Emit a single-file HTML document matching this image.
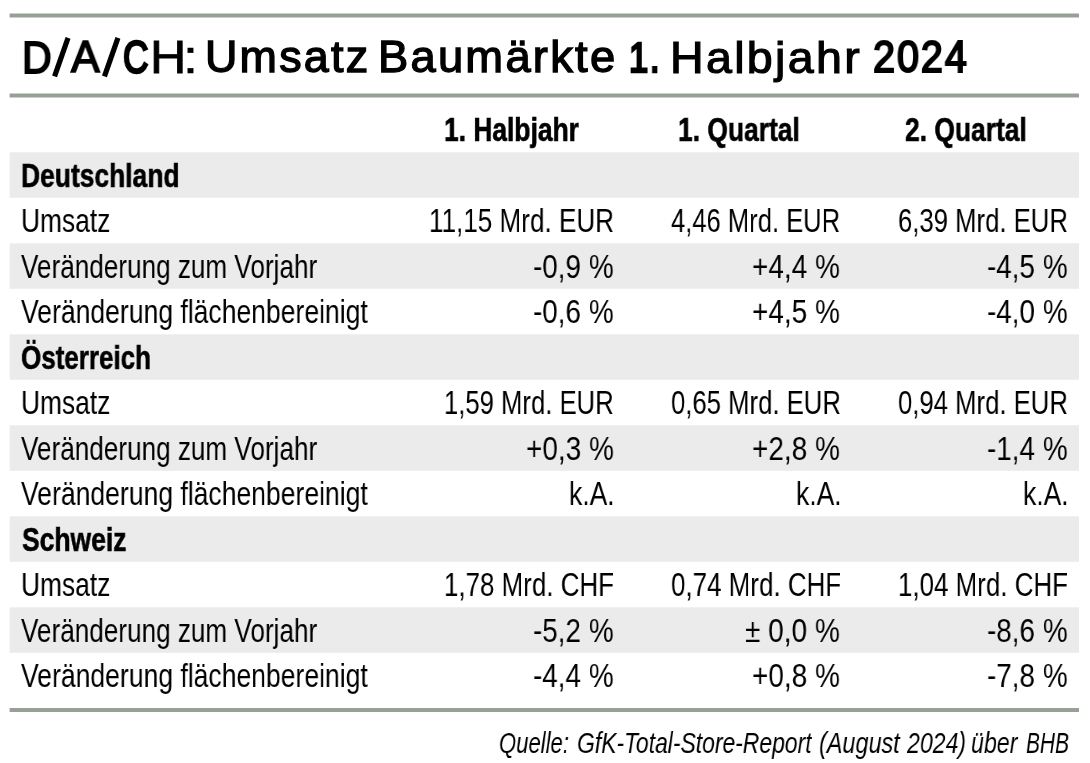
<!DOCTYPE html>
<html><head><meta charset="utf-8"><style>
html,body{margin:0;padding:0;background:#fff;}
body{width:1090px;height:763px;position:relative;overflow:hidden;font-family:"Liberation Sans",sans-serif;color:#000;}
.rule{position:absolute;left:10px;width:1069px;background:#97a095;}
.bg{position:absolute;left:10px;width:1069px;height:45.5px;background:#ebebeb;}
.t{position:absolute;white-space:nowrap;will-change:transform;transform-origin:0 0;}
</style></head><body>
<svg style="position:absolute;left:0;top:0" width="1090" height="763" viewBox="0 0 1090 763"><rect x="9.7" y="152.30" width="1069.3" height="45.5" fill="#ebebeb"/><rect x="9.7" y="243.30" width="1069.3" height="45.5" fill="#ebebeb"/><rect x="9.7" y="334.30" width="1069.3" height="45.5" fill="#ebebeb"/><rect x="9.7" y="425.30" width="1069.3" height="45.5" fill="#ebebeb"/><rect x="9.7" y="516.30" width="1069.3" height="45.5" fill="#ebebeb"/><rect x="9.7" y="607.30" width="1069.3" height="45.5" fill="#ebebeb"/><rect x="9.6" y="13.5" width="1069.4" height="4" fill="#97a095"/><rect x="9.6" y="93.5" width="1069.4" height="4" fill="#97a095"/><rect x="9.6" y="708" width="1069.4" height="4" fill="#97a095"/><g stroke="#000" stroke-width="5.2" stroke-linecap="butt"><line x1="54.55" y1="76.35" x2="68.05" y2="37.85"/><line x1="104.45" y1="76.35" x2="117.95" y2="37.85"/></g></svg>
<div class="t" style="left:21.62px;top:35.57px;font-size:43.85px;line-height:43.85px;-webkit-text-stroke:1.83px #000;letter-spacing:2.2px;transform:scaleX(0.9376)">D</div>
<div class="t" style="left:70.77px;top:35.39px;font-size:44.20px;line-height:44.20px;-webkit-text-stroke:1.59px #000;letter-spacing:2.2px;transform:scaleX(0.9724)">A</div>
<div class="t" style="left:123.04px;top:34.51px;font-size:45.35px;line-height:45.35px;-webkit-text-stroke:2.60px #000;letter-spacing:2.2px;transform:scaleX(0.7761)">C</div>
<div class="t" style="left:149.59px;top:34.81px;font-size:45.36px;line-height:45.36px;-webkit-text-stroke:0.79px #000;letter-spacing:2.2px;transform:scaleX(1.1074)">H</div>
<div class="t" style="left:182.56px;top:34.67px;font-size:45.64px;line-height:45.64px;-webkit-text-stroke:0.60px #000;letter-spacing:2.2px;transform:scaleX(1.1814)">:</div>
<div class="t" style="left:204.70px;top:35.22px;font-size:44.53px;line-height:44.53px;-webkit-text-stroke:1.36px #000;letter-spacing:2.2px;transform:scaleX(1.0074)">Umsatz</div>
<div class="t" style="left:378.24px;top:35.18px;font-size:44.61px;line-height:44.61px;-webkit-text-stroke:1.31px #000;letter-spacing:2.2px;transform:scaleX(1.0163)">Baumärkte</div>
<div class="t" style="left:628.75px;top:36.13px;font-size:42.73px;line-height:42.73px;-webkit-text-stroke:2.60px #000;letter-spacing:2.2px;transform:scaleX(0.8055)">1.</div>
<div class="t" style="left:669.50px;top:35.08px;font-size:44.82px;line-height:44.82px;-webkit-text-stroke:1.16px #000;letter-spacing:2.2px;transform:scaleX(1.0404)">Halbjahr</div>
<div class="t" style="left:872.58px;top:35.73px;font-size:43.52px;line-height:43.52px;-webkit-text-stroke:2.06px #000;letter-spacing:2.2px;transform:scaleX(0.9070)">2024</div>
<div class="t" style="left:444.15px;top:112.81px;font-size:33.3px;line-height:33.3px;font-weight:bold;-webkit-text-stroke:0.6px #000;transform:scaleX(0.7923)">1. Halbjahr</div>
<div class="t" style="left:678.05px;top:112.81px;font-size:33.3px;line-height:33.3px;font-weight:bold;-webkit-text-stroke:0.6px #000;transform:scaleX(0.7930)">1. Quartal</div>
<div class="t" style="left:904.84px;top:112.81px;font-size:33.3px;line-height:33.3px;font-weight:bold;-webkit-text-stroke:0.6px #000;transform:scaleX(0.7930)">2. Quartal</div>
<div class="t" style="left:21.05px;top:158.61px;font-size:33.3px;line-height:33.3px;font-weight:bold;-webkit-text-stroke:0.6px #000;transform:scaleX(0.7936)">Deutschland</div>
<div class="t" style="left:21.02px;top:203.51px;font-size:33.3px;line-height:33.3px;transform:scaleX(0.7912)">Umsatz</div>
<div class="t" style="left:429.03px;top:203.51px;font-size:33.3px;line-height:33.3px;transform:scaleX(0.7830)">11,15 Mrd. EUR</div>
<div class="t" style="left:671.30px;top:203.51px;font-size:33.3px;line-height:33.3px;transform:scaleX(0.7679)">4,46 Mrd. EUR</div>
<div class="t" style="left:897.83px;top:203.51px;font-size:33.3px;line-height:33.3px;transform:scaleX(0.7715)">6,39 Mrd. EUR</div>
<div class="t" style="left:21.30px;top:250.01px;font-size:33.3px;line-height:33.3px;transform:scaleX(0.7844)">Veränderung zum Vorjahr</div>
<div class="t" style="left:533.16px;top:250.01px;font-size:33.3px;line-height:33.3px;transform:scaleX(0.8370)">-0,9 %</div>
<div class="t" style="left:752.26px;top:250.01px;font-size:33.3px;line-height:33.3px;transform:scaleX(0.8399)">+4,4 %</div>
<div class="t" style="left:986.86px;top:250.01px;font-size:33.3px;line-height:33.3px;transform:scaleX(0.8370)">-4,5 %</div>
<div class="t" style="left:21.30px;top:294.51px;font-size:33.3px;line-height:33.3px;transform:scaleX(0.7972)">Veränderung flächenbereinigt</div>
<div class="t" style="left:533.16px;top:294.51px;font-size:33.3px;line-height:33.3px;transform:scaleX(0.8370)">-0,6 %</div>
<div class="t" style="left:752.26px;top:294.51px;font-size:33.3px;line-height:33.3px;transform:scaleX(0.8399)">+4,5 %</div>
<div class="t" style="left:986.86px;top:294.51px;font-size:33.3px;line-height:33.3px;transform:scaleX(0.8370)">-4,0 %</div>
<div class="t" style="left:21.45px;top:340.61px;font-size:33.3px;line-height:33.3px;font-weight:bold;-webkit-text-stroke:0.6px #000;transform:scaleX(0.7802)">Österreich</div>
<div class="t" style="left:21.02px;top:385.51px;font-size:33.3px;line-height:33.3px;transform:scaleX(0.7912)">Umsatz</div>
<div class="t" style="left:444.36px;top:385.51px;font-size:33.3px;line-height:33.3px;transform:scaleX(0.7704)">1,59 Mrd. EUR</div>
<div class="t" style="left:670.53px;top:385.51px;font-size:33.3px;line-height:33.3px;transform:scaleX(0.7715)">0,65 Mrd. EUR</div>
<div class="t" style="left:897.83px;top:385.51px;font-size:33.3px;line-height:33.3px;transform:scaleX(0.7715)">0,94 Mrd. EUR</div>
<div class="t" style="left:21.30px;top:432.01px;font-size:33.3px;line-height:33.3px;transform:scaleX(0.7844)">Veränderung zum Vorjahr</div>
<div class="t" style="left:525.86px;top:432.01px;font-size:33.3px;line-height:33.3px;transform:scaleX(0.8399)">+0,3 %</div>
<div class="t" style="left:752.26px;top:432.01px;font-size:33.3px;line-height:33.3px;transform:scaleX(0.8399)">+2,8 %</div>
<div class="t" style="left:986.86px;top:432.01px;font-size:33.3px;line-height:33.3px;transform:scaleX(0.8370)">-1,4 %</div>
<div class="t" style="left:21.30px;top:476.51px;font-size:33.3px;line-height:33.3px;transform:scaleX(0.7972)">Veränderung flächenbereinigt</div>
<div class="t" style="left:569.41px;top:476.51px;font-size:33.3px;line-height:33.3px;transform:scaleX(0.7946)">k.A.</div>
<div class="t" style="left:795.81px;top:476.51px;font-size:33.3px;line-height:33.3px;transform:scaleX(0.7946)">k.A.</div>
<div class="t" style="left:1023.11px;top:476.51px;font-size:33.3px;line-height:33.3px;transform:scaleX(0.7946)">k.A.</div>
<div class="t" style="left:22.14px;top:522.61px;font-size:33.3px;line-height:33.3px;font-weight:bold;-webkit-text-stroke:0.6px #000;transform:scaleX(0.7949)">Schweiz</div>
<div class="t" style="left:21.02px;top:567.51px;font-size:33.3px;line-height:33.3px;transform:scaleX(0.7912)">Umsatz</div>
<div class="t" style="left:444.34px;top:567.51px;font-size:33.3px;line-height:33.3px;transform:scaleX(0.7782)">1,78 Mrd. CHF</div>
<div class="t" style="left:670.52px;top:567.51px;font-size:33.3px;line-height:33.3px;transform:scaleX(0.7792)">0,74 Mrd. CHF</div>
<div class="t" style="left:898.04px;top:567.51px;font-size:33.3px;line-height:33.3px;transform:scaleX(0.7782)">1,04 Mrd. CHF</div>
<div class="t" style="left:21.30px;top:614.01px;font-size:33.3px;line-height:33.3px;transform:scaleX(0.7844)">Veränderung zum Vorjahr</div>
<div class="t" style="left:533.16px;top:614.01px;font-size:33.3px;line-height:33.3px;transform:scaleX(0.8370)">-5,2 %</div>
<div class="t" style="left:745.26px;top:614.01px;font-size:33.3px;line-height:33.3px;transform:scaleX(0.8419)">± 0,0 %</div>
<div class="t" style="left:986.86px;top:614.01px;font-size:33.3px;line-height:33.3px;transform:scaleX(0.8370)">-8,6 %</div>
<div class="t" style="left:21.30px;top:658.51px;font-size:33.3px;line-height:33.3px;transform:scaleX(0.7972)">Veränderung flächenbereinigt</div>
<div class="t" style="left:533.16px;top:658.51px;font-size:33.3px;line-height:33.3px;transform:scaleX(0.8370)">-4,4 %</div>
<div class="t" style="left:752.26px;top:658.51px;font-size:33.3px;line-height:33.3px;transform:scaleX(0.8399)">+0,8 %</div>
<div class="t" style="left:986.86px;top:658.51px;font-size:33.3px;line-height:33.3px;transform:scaleX(0.8370)">-7,8 %</div>
<div class="t" style="left:498.83px;top:728.59px;font-size:28.6px;line-height:28.6px;font-style:italic;transform:scaleX(0.7715)">Quelle:</div>
<div class="t" style="left:576.60px;top:728.59px;font-size:28.6px;line-height:28.6px;font-style:italic;transform:scaleX(0.8007)">GfK-Total-Store-Report</div>
<div class="t" style="left:818.58px;top:728.59px;font-size:28.6px;line-height:28.6px;font-style:italic;transform:scaleX(0.8195)">(August</div>
<div class="t" style="left:906.51px;top:728.59px;font-size:28.6px;line-height:28.6px;font-style:italic;transform:scaleX(0.8084)">2024)</div>
<div class="t" style="left:970.89px;top:728.59px;font-size:28.6px;line-height:28.6px;font-style:italic;transform:scaleX(0.8110)">über</div>
<div class="t" style="left:1025.90px;top:728.59px;font-size:28.6px;line-height:28.6px;font-style:italic;transform:scaleX(0.7306)">BHB</div>
</body></html>
